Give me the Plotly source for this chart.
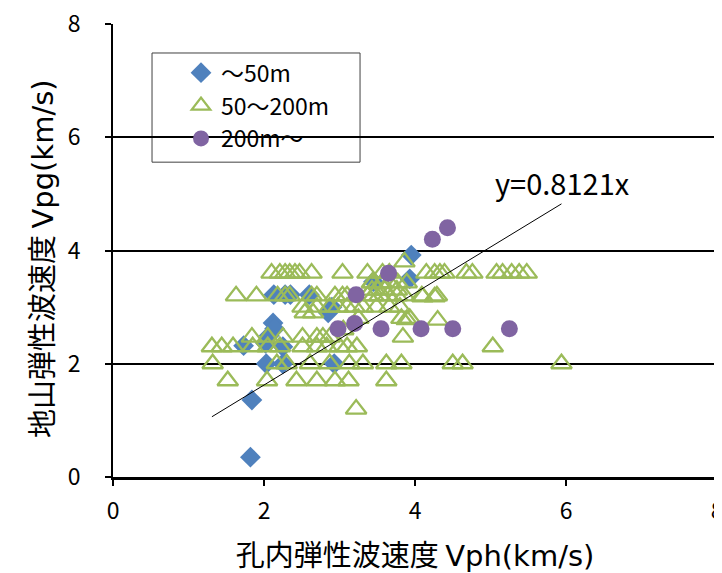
import plotly.graph_objects as go

# ~50m series (diamonds)
d_x = [1.82, 1.84, 1.73, 2.02, 2.07, 2.12, 2.14, 2.25, 2.03, 2.25, 2.13, 2.28, 2.35, 2.60, 2.93, 2.90, 2.85, 3.45, 3.93, 3.95]
d_y = [0.35, 1.36, 2.32, 2.36, 2.50, 2.72, 2.62, 2.30, 2.00, 2.00, 3.22, 3.22, 3.22, 3.22, 2.00, 3.00, 2.90, 3.45, 3.50, 3.92]

# 50~200m series (triangles)
t_x = [2.10, 2.21, 2.28, 2.34, 2.41, 2.47, 2.63, 3.04, 3.37, 3.57, 3.66, 4.15, 4.26, 4.33, 4.39, 4.68, 4.76, 5.08, 5.16, 5.28, 5.38, 5.48,
       3.86,
       3.43, 3.44, 3.56, 3.66, 3.77, 3.89,
       3.43, 3.51, 3.60, 3.76,
       1.63, 1.90, 2.18, 2.28, 2.34, 2.63, 2.70, 2.94, 3.04, 3.10, 3.37, 3.45, 3.53, 3.64, 3.76, 3.86, 4.09, 4.29, 4.10, 4.26,
       2.51, 2.70, 2.87, 2.98, 3.10, 3.20, 3.31, 3.49, 3.66, 3.80,
       2.54, 2.65,
       3.82, 3.89, 3.93, 4.30, 3.05, 3.25,
       1.84, 2.05, 2.25, 2.51, 2.70, 2.87, 2.78, 3.84,
       1.31, 1.44, 1.59, 1.85, 2.05, 2.21, 2.51, 2.70, 2.83, 3.00, 3.10, 3.23, 5.03,
       1.32, 2.17, 2.30, 2.61, 2.87, 3.13, 3.31, 3.62, 3.82, 4.50, 4.63, 5.94,
       1.52, 2.04, 2.43, 2.70, 2.94, 3.12, 3.62,
       3.22]
t_y = [3.60] * 22 + \
      [3.80] + \
      [3.43] * 6 + \
      [3.30] * 4 + \
      [3.20] * 18 + [3.18, 3.18] + \
      [3.00] * 10 + \
      [2.90] * 2 + \
      [2.80, 2.78, 2.80, 2.77, 2.60, 2.80] + \
      [2.47] * 8 + \
      [2.30] * 13 + \
      [2.00] * 12 + \
      [1.70] * 7 + \
      [1.20]

# 200m~ series (circles)
c_x = [2.98, 3.20, 3.22, 3.55, 3.65, 4.08, 4.23, 4.43, 4.50, 5.25]
c_y = [2.62, 2.71, 3.22, 2.62, 3.60, 2.62, 4.20, 4.40, 2.62, 2.62]

slope = 0.8121
all_x = d_x + t_x + c_x
fit_x = [min(all_x), max(all_x)]
fit_y = [slope * v for v in fit_x]

x_ticks = [0, 2, 4, 6, 8]
y_ticks = [0, 2, 4, 6, 8]

x_title = "孔内弾性波速度 <span style='font-family:DejaVu Sans'>Vph(km/s)</span>"
y_title = "地山弾性波速度 <span style='font-family:DejaVu Sans'>Vpg(km/s)</span>"

jp = "Noto Sans CJK JP, Open Sans, sans-serif"

fig = go.Figure()
fig.add_trace(go.Scatter(
    x=d_x, y=d_y, mode="markers", name="～50m",
    marker=dict(symbol="diamond", size=16, color="#4F81BD", line=dict(width=0)),
))
fig.add_trace(go.Scatter(
    x=t_x, y=t_y, mode="markers", name="50～200m",
    marker=dict(symbol="triangle-up-open", size=18, color="#9BBB59", line=dict(width=2.3, color="#9BBB59")),
))
fig.add_trace(go.Scatter(
    x=c_x, y=c_y, mode="markers", name="200m～",
    marker=dict(symbol="circle", size=17, color="#8064A2", line=dict(width=0)),
))
fig.add_trace(go.Scatter(
    x=fit_x, y=fit_y, mode="lines", showlegend=False,
    line=dict(color="black", width=1), hoverinfo="skip",
))

fig.add_annotation(
    x=5.95, y=5.21, xref="x", yref="y", text="y=0.8121x", showarrow=False,
    font=dict(family=jp, size=29, color="black"),
)

# y axis title (placed as rotated text)
fig.add_annotation(
    x=-0.121, y=0.483, xref="paper", yref="paper", text=y_title, showarrow=False,
    textangle=-90, xanchor="center", yanchor="middle",
    font=dict(family=jp, size=29, color="black"),
)

# legend frame
fig.add_shape(
    type="rect", xref="paper", yref="paper",
    x0=0.0646, x1=0.409, y0=0.695, y1=0.936,
    line=dict(color="#404040", width=1), fillcolor="white", layer="below",
)

fig.update_layout(
    width=722, height=573,
    margin=dict(l=105, r=13, t=16, b=104, autoexpand=False),
    paper_bgcolor="white", plot_bgcolor="white",
    font=dict(family=jp, color="black"),
    legend=dict(
        x=0.1126, y=0.940, xanchor="left", yanchor="top",
        bgcolor="rgba(0,0,0,0)", borderwidth=0,
        font=dict(family=jp, size=23, color="black"),
        tracegroupgap=7,
    ),
)
fig.update_xaxes(
    range=[0, 8], tickvals=x_ticks, ticktext=[str(v) for v in x_ticks],
    showgrid=False, zeroline=False, automargin=False,
    showline=True, linecolor="black", linewidth=2.5,
    ticks="outside", ticklen=6, tickcolor="black", tickwidth=1.5,
    tickfont=dict(family=jp, size=23, color="black"), ticklabelstandoff=6,
    ticklabeloverflow="allow",
    title=dict(text=x_title, font=dict(family=jp, size=29, color="black"), standoff=21),
)
fig.update_yaxes(
    range=[0, 8], tickvals=y_ticks, ticktext=[str(v) for v in y_ticks],
    showgrid=True, gridcolor="black", gridwidth=2, zeroline=False, automargin=False,
    showline=True, linecolor="black", linewidth=2,
    ticks="outside", ticklen=6, tickcolor="black", tickwidth=1.5,
    tickfont=dict(family=jp, size=23, color="black"), ticklabelstandoff=20,
    ticklabeloverflow="allow",
)

fig.write_html("out.html")
